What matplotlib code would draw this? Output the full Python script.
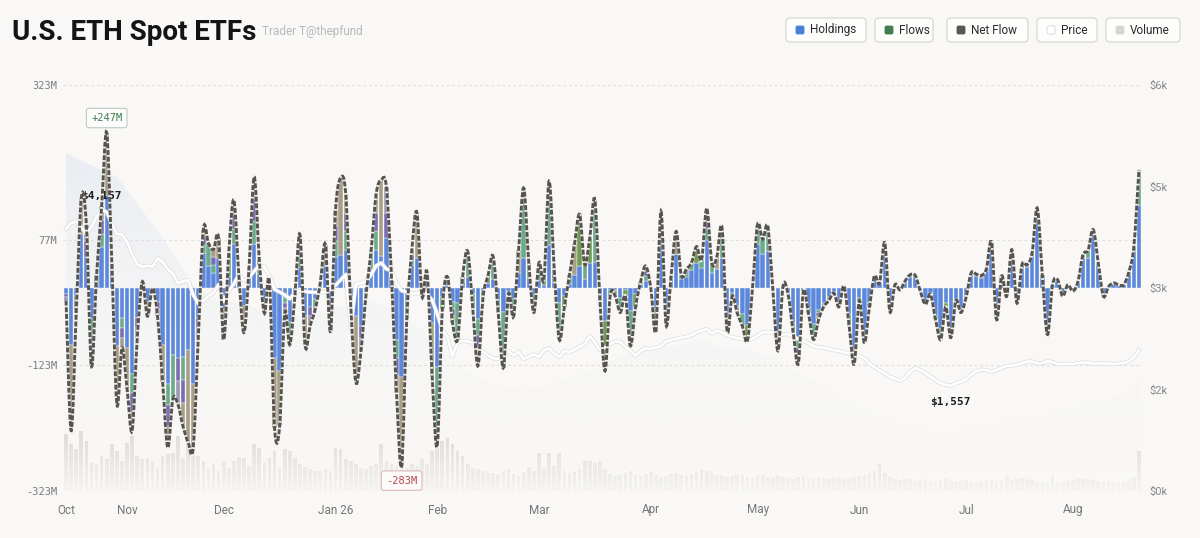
import numpy as np
import matplotlib
matplotlib.use("Agg")
import matplotlib.pyplot as plt
import matplotlib.colors as mcolors
import matplotlib.patheffects as pe
from matplotlib import font_manager
from matplotlib.path import Path
from matplotlib.patches import PathPatch, FancyBboxPatch

# ---- data: US ETH spot ETF daily flows, Oct 2025 -> mid Aug 2026 (trading days) ----
MONTHS = ["Oct", "Nov", "Dec", "Jan 26", "Feb", "Mar", "Apr", "May", "Jun", "Jul", "Aug"]
MONTH_DAYS = [12, 19, 22, 20, 20, 22, 21, 20, 21, 21, 14]

# net flow, $M per day
net_flow = [
    -20, -227, -40, 143, 100, -124, 20, 130, 247, 40, -185, -95,                       # Oct
    -160, -227, -80, 10, -45, 0, -45, -150, -254, -177, -185, -220, -245, -254, -80,
    93, 71, 61, 79,                                                                     # Nov
    -82, 56, 140, 18, -71, 34, 177, 45, -40, 10, -222, -220, -40, -90, -13, 85, -90,
    -60, -34, 8, 69, -69,                                                               # Dec
    124, 175, 150, -30, -150, -100, -10, 60, 150, 172, 160, 18, -167, -283, -50, 60,
    120, -13, 24, -140,                                                                 # Jan
    -251, -34, 18, -55, -82, 18, 58, -34, -124, -15, 20, 50, -40, -127, -10, -45, 60,
    159, 40, -39,                                                                       # Feb
    40, 15, 170, 30, -82, -30, 20, 70, 117, 37, 80, 140, -20, -132, -13, -13, -39, -13,
    -92, -30, 10, 35,                                                                   # Mar
    0, -68, 122, -58, 20, 90, 20, 30, 40, 66, 45, 127, 40, 50, 96, -68, -13, -40, -60,
    -84, 0,                                                                             # Apr
    101, 77, 98, -2, -100, 3, -10, -70, -120, -5, -40, -82, -50, -30, -20, -8, -30, 3,
    -60, -121,                                                                          # May
    -20, -87, -30, 19, 8, 72, -37, 5, -3, 11, 21, 20, -5, -26, -10, -50, -82, -30, -79,
    -20, -39,                                                                           # Jun
    -15, 24, 22, 20, 30, 72, -50, 19, -13, 61, -24, 37, 37, 56, 127, 20, -74, 5, 13,
    -13, 5,                                                                             # Jul
    -5, 10, 53, 60, 93, 40, -13, 2, 8, 5, 5, 25, 66, 188,                               # Aug
]

# ETH price, $
price = [
    3876, 3960, 3980, 3900, 3800, 3900, 4050, 4167, 4120, 3950, 3800, 3790,
    3680, 3500, 3350, 3310, 3330, 3310, 3440, 3390, 3270, 3220, 3070, 3100, 3120, 2900,
    2770, 2810, 2880, 2930, 3050,
    2800, 2960, 3060, 3200, 3110, 3160, 3250, 3330, 3310, 3180, 2980, 2940, 2900, 2840,
    2930, 2960, 2950, 2940, 2935, 2937, 2940, 2980,
    3040, 3120, 3200, 2400, 3060, 3070, 3090, 3200, 3330, 3370, 3280, 3260, 3070, 2960,
    2940, 2925, 2910, 2960, 2910, 2820,
    2620, 2380, 2280, 1990, 2200, 2220, 2210, 2190, 2050, 2060, 2000, 1960, 1955, 1990,
    2070, 2000, 2060, 1950, 1990, 2020,
    1980, 2080, 2110, 2030, 1980, 2070, 2050, 2090, 2130, 2170, 2290, 2200, 2080, 2120,
    2170, 2210, 2200, 2130, 2070, 2000, 2070, 2110,
    2100, 2120, 2140, 2210, 2230, 2250, 2265, 2280, 2300, 2345, 2370, 2394, 2330, 2370,
    2345, 2300, 2275, 2260, 2247, 2225, 2250,
    2300, 2345, 2345, 2345, 2300, 2310, 2320, 2280, 2250, 2222, 2180, 2140, 2123, 2120,
    2100, 2080, 2070, 2050, 2030, 2024,
    2000, 1960, 1880, 1830, 1780, 1740, 1690, 1660, 1630, 1670, 1760, 1820, 1785, 1740,
    1690, 1640, 1590, 1570, 1557, 1590, 1615,
    1650, 1720, 1770, 1795, 1785, 1760, 1790, 1820, 1845, 1851, 1870, 1885, 1915, 1915,
    1885, 1890, 1920, 1905, 1876, 1876, 1880,
    1876, 1890, 1898, 1900, 1880, 1885, 1885, 1885, 1876, 1882, 1895, 1915, 1970, 2083,
]

# traded volume, $100M per day
volume = [
    57, 47, 42, 60, 50, 28, 27, 35, 32, 47, 40, 30,
    48, 55, 35, 32, 33, 30, 22, 35, 37, 38, 55, 33, 48, 48, 35, 30, 22, 27, 20,
    30, 23, 30, 33, 33, 25, 47, 43, 28, 33, 40, 23, 42, 40, 33, 27, 24, 22, 20, 20, 22, 20,
    43, 42, 32, 30, 27, 23, 22, 25, 27, 47, 30, 27, 25, 27, 23, 27, 25, 32, 27, 40,
    43, 50, 53, 47, 40, 35, 27, 23, 22, 20, 18, 18, 16, 20, 22, 17, 15, 19, 24, 20,
    38, 22, 38, 25, 38, 20, 18, 19, 22, 30, 30, 28, 30, 22, 17, 15, 16, 18, 20, 16, 15, 17,
    19, 16, 14, 15, 17, 18, 16, 15, 17, 19, 21, 20, 18, 16, 15, 14, 15, 17, 16, 14, 13,
    15, 16, 14, 13, 15, 14, 13, 12, 14, 15, 13, 12, 14, 13, 12, 13, 14, 12, 13, 14,
    15, 16, 18, 20, 27, 18, 14, 12, 11, 13, 12, 10, 11, 12, 10, 9, 11, 12, 10, 9, 10,
    11, 9, 8, 9, 10, 11, 9, 10, 15, 11, 12, 13, 12, 11, 9, 10, 8, 15, 9, 8, 10,
    11, 12, 13, 12, 11, 10, 9, 10, 9, 8, 9, 10, 14, 40,
]

# total holdings value, $B, sampled weekly
hold_aum = [30.0, 28.9, 27.9, 24.9, 21.8, 18.3, 16.9, 16.5, 16.0, 15.6, 16.0, 16.5, 16.9,
            16.0, 14.2, 12.0, 10.2, 9.4, 8.9, 9.4, 10.2, 11.1, 12.0, 12.6, 12.9, 13.4, 12.5,
            12.5, 11.6, 10.2, 8.9, 7.6, 6.7, 5.8, 5.3, 5.3, 5.8, 6.2, 6.7, 6.9, 7.6, 8.0,
            9.4, 10.2]

# per-day share of the biggest fund (tenths) and colour code of the rest of the stack
BLUE_SHARE = ("543654356455" "6666545666654666546" "4355464553564644555453"
              "43453665435455464534" "54343533434353544343" "3343343334535433434343"
              "657676767676665767776" "77687778788778787778" "898899889889898988998"
              "999899989998999899989" "88989999898997")
TIP_MIX = ("ptmtpmgmtptm" "tmpgtmptmgpmttpmgmt" "tgmttpmgptttmgtmtpgmtp"
           "mtmptpmgmtppmtgmttpt" "gggmgtggmgogggmgtggm" "gogmgogtogogmogtgogogm"
           "gogmgtgmgogmgtgmgmgog" "gggmgtggmgggmgtggmgt" "ggmgtgggogggmgtggoggt"
           "gggtgggmggggtgggmgggt" "rgtggggtgggggg")

YTICKS = [323, 77, -123, -323]
YTICK_LABELS = ["323M", "77M", "-123M", "-323M"]
PTICKS = [0, 1500, 3000, 4500, 6000]
PTICK_LABELS = ["$0k", "$2k", "$3k", "$5k", "$6k"]

# ---- styling ----------------------------------------------------------------
BG = "#f9f8f6"
BLUE = "#5b88dc"
SEG = {"teal": "#6aab8b", "tan": "#a89f86", "purple": "#7b6db3", "lilac": "#9a98b5",
       "olive": "#6f9d52", "red": "#b8646c"}
TIPS = {"g": ["teal"], "t": ["tan"], "p": ["purple", "lilac"], "m": ["teal", "purple", "tan"],
        "o": ["olive"], "r": ["red", "lilac"]}

avail = {f.name for f in font_manager.fontManager.ttflist}
NARROW = "Liberation Sans Narrow" if "Liberation Sans Narrow" in avail else "Roboto"
SANS = "Roboto" if "Roboto" in avail else "DejaVu Sans"
MONO = "DejaVu Sans Mono"

N = len(net_flow)
assert N == sum(MONTH_DAYS) == len(price) == len(volume) == len(BLUE_SHARE) == len(TIP_MIX)
x = np.arange(N)
net = np.array(net_flow, float)
month_start = np.cumsum([0] + MONTH_DAYS[:-1])
hold_day = list(range(0, N - 1, 5)) + [N - 1]


def smooth_path(xs, ys):
    """Catmull-Rom curve through every point, as cubic bezier segments."""
    verts, codes = [(xs[0], ys[0])], [Path.MOVETO]
    n = len(xs)
    for i in range(n - 1):
        a, d = max(i - 1, 0), min(i + 2, n - 1)
        c1 = (xs[i] + (xs[i + 1] - xs[a]) / 6, ys[i] + (ys[i + 1] - ys[a]) / 6)
        c2 = (xs[i + 1] - (xs[d] - xs[i]) / 6, ys[i + 1] - (ys[d] - ys[i]) / 6)
        verts += [c1, c2, (xs[i + 1], ys[i + 1])]
        codes += [Path.CURVE4] * 3
    return Path(verts, codes)


fig = plt.figure(figsize=(12, 5.38), dpi=100, facecolor=BG)
rect = [63 / 1200, 1 - 491 / 538, 1079 / 1200, 406 / 538]
ax = fig.add_axes(rect, zorder=3)
ax_area = fig.add_axes(rect, sharex=ax, zorder=1)
ax_vol = fig.add_axes(rect, sharex=ax, zorder=2)
ax_px = fig.add_axes(rect, sharex=ax, zorder=4)
ax_net = fig.add_axes(rect, sharex=ax, sharey=ax, zorder=5)
for a in (ax, ax_area, ax_vol, ax_px, ax_net):
    a.patch.set_visible(False)
    for sp in a.spines.values():
        sp.set_visible(False)
for a in (ax_area, ax_vol, ax_net):
    a.set_axis_off()

# holdings area with vertical fade
AREA_TOP = 36.06
poly = ax_area.fill_between(hold_day, 0, hold_aum, facecolor="none", edgecolor="none")
grad = np.zeros((256, 1, 4))
grad[..., :3] = mcolors.to_rgb("#e2e8f1")
grad[:, 0, 3] = np.linspace(0.0, 1.0, 256) ** 1.8 * 0.95
im = ax_area.imshow(grad, extent=(-0.6, N - 0.4, 0, AREA_TOP), origin="lower",
                    aspect="auto", interpolation="bilinear", zorder=1)
im.set_clip_path(poly.get_paths()[0], transform=ax_area.transData)

# volume bars, fading toward the base
ax_vol.bar(x, volume, width=0.72, color="#dfdcd6", linewidth=0, zorder=1)
fade = np.zeros((64, 1, 4))
fade[..., :3] = mcolors.to_rgb(BG)
fade[:, 0, 3] = np.linspace(0.85, 0.0, 64)
ax_vol.imshow(fade, extent=(0, 1, 0, 0.15), transform=ax_vol.transAxes, origin="lower",
              aspect="auto", interpolation="bilinear", zorder=3)

# stacked daily flow bars
seg_x, seg_h, seg_b, seg_c = [], [], [], []
for i in range(N):
    v = net[i]
    blue = v * int(BLUE_SHARE[i]) / 10
    seg_x.append(i); seg_h.append(blue); seg_b.append(0.0); seg_c.append(BLUE)
    rest = TIPS[TIP_MIX[i]]
    part = (v - blue) / len(rest)
    base = blue
    for name in rest:
        seg_x.append(i); seg_h.append(part); seg_b.append(base); seg_c.append(SEG[name])
        base += part
ax.bar(seg_x, seg_h, bottom=seg_b, width=0.86, color=seg_c, edgecolor=BG, linewidth=0.3,
       zorder=2)

for t in YTICKS:
    ax.axhline(t, color="#e2e0dc", lw=0.8, ls=(0, (2.5, 2.5)), zorder=0)
ax.set_ylim(-323, 323)
ax.set_yticks(YTICKS, YTICK_LABELS, fontfamily=MONO, fontsize=7.5, color="#7b7b7b")
ax.set_xticks(month_start, MONTHS, fontfamily=SANS, fontsize=8.5, color="#767676")
ax.tick_params(axis="y", length=0, pad=4)
ax.tick_params(axis="x", length=0, pad=9)

# price line
ax_px.plot(x, price, color="white", lw=1.9, zorder=3, solid_joinstyle="round",
           path_effects=[pe.Stroke(linewidth=2.9, foreground="#dcdcdc"), pe.Normal()])
ax_px.set_ylim(0, 6000)
ax_px.yaxis.tick_right()
ax_px.set_yticks(PTICKS, PTICK_LABELS, fontfamily=SANS, fontsize=8, color="#8a8a8a")
ax_px.tick_params(axis="y", length=0, pad=5)
ax_px.xaxis.set_visible(False)
pmax, pmin = int(np.argmax(price)), int(np.argmin(price))
ax_px.annotate(f"${price[pmax]:,.0f}", xy=(pmax, price[pmax]), xytext=(0, 6),
               textcoords="offset points", ha="center", va="bottom", fontsize=8,
               fontfamily=MONO, fontweight="bold", color="#1e1e1e")
ax_px.annotate(f"${price[pmin]:,.0f}", xy=(pmin, price[pmin]), xytext=(0, -8),
               textcoords="offset points", ha="center", va="top", fontsize=8,
               fontfamily=MONO, fontweight="bold", color="#1e1e1e")

# net flow: smooth dashed curve
path = smooth_path(x.astype(float), net)
ax_net.add_patch(PathPatch(path, fill=False, lw=2.1, edgecolor="#f1f0ec", zorder=2))
ax_net.add_patch(PathPatch(path, fill=False, lw=2.1, edgecolor="#57534f",
                           linestyle=(0, (1.7, 0.6)), capstyle="butt", zorder=3))
imax, imin = int(np.argmax(net)), int(np.argmin(net))
ax_net.annotate(f"+{net[imax]:.0f}M", xy=(imax, net[imax]), xytext=(0, 7),
                textcoords="offset points", ha="center", va="bottom", fontsize=7.5,
                fontfamily=MONO, color="#3f7d52",
                bbox=dict(boxstyle="round,pad=0.45,rounding_size=0.25", fc="#fbfcfb",
                          ec="#b9cdbf", lw=0.8))
ax_net.annotate(f"{net[imin]:.0f}M", xy=(imin, net[imin]), xytext=(0, -7),
                textcoords="offset points", ha="center", va="top", fontsize=7.5,
                fontfamily=MONO, color="#b4474b",
                bbox=dict(boxstyle="round,pad=0.45,rounding_size=0.25", fc="#fdfafa",
                          ec="#dcb9b9", lw=0.8))

ax.set_xlim(-0.6, N - 0.4)
ax_area.set_ylim(0, AREA_TOP)
ax_vol.set_ylim(0, 405)

# ---- header: title + legend buttons -----------------------------------------
fig.text(12 / 1200, 1 - 40 / 538, "U.S. ETH Spot ETFs", fontsize=22.5 if NARROW != "Roboto" else 20,
         fontweight="bold", fontfamily=NARROW, color="#141414", va="baseline")
fig.text(262 / 1200, 1 - 35 / 538, "Trader T@thepfund", fontsize=8.5, fontfamily=NARROW,
         color="#b9b9b9", va="baseline")

inch = fig.dpi_scale_trans
LEGEND = [("Holdings", "#4a7fd6", 786, 866), ("Flows", "#3f7f4f", 875, 933),
          ("Net Flow", "#5a5652", 947, 1028), ("Price", "#ffffff", 1037, 1097),
          ("Volume", "#d8d5ce", 1106, 1180)]
for label, col, x0, x1 in LEGEND:
    fig.patches.append(FancyBboxPatch((x0 / 100, (538 - 42) / 100), (x1 - x0) / 100, 0.24,
                                      boxstyle="round,pad=0,rounding_size=0.04",
                                      fc="#fdfdfc", ec="#d9d7d3", lw=0.9, transform=inch,
                                      figure=fig))
    fig.patches.append(FancyBboxPatch(((x0 + 10) / 100, (538 - 34) / 100), 0.08, 0.08,
                                      boxstyle="round,pad=0,rounding_size=0.015",
                                      fc=col, ec="#d6d6d6" if col == "#ffffff" else col,
                                      lw=0.6, transform=inch, figure=fig))
    fig.text((x0 + 24) / 100, (538 - 30) / 100, label, transform=inch, fontsize=8.5,
             fontfamily=SANS, color="#2b2b2b", va="center", ha="left")

fig.savefig("out.png", dpi=100, facecolor=BG)
